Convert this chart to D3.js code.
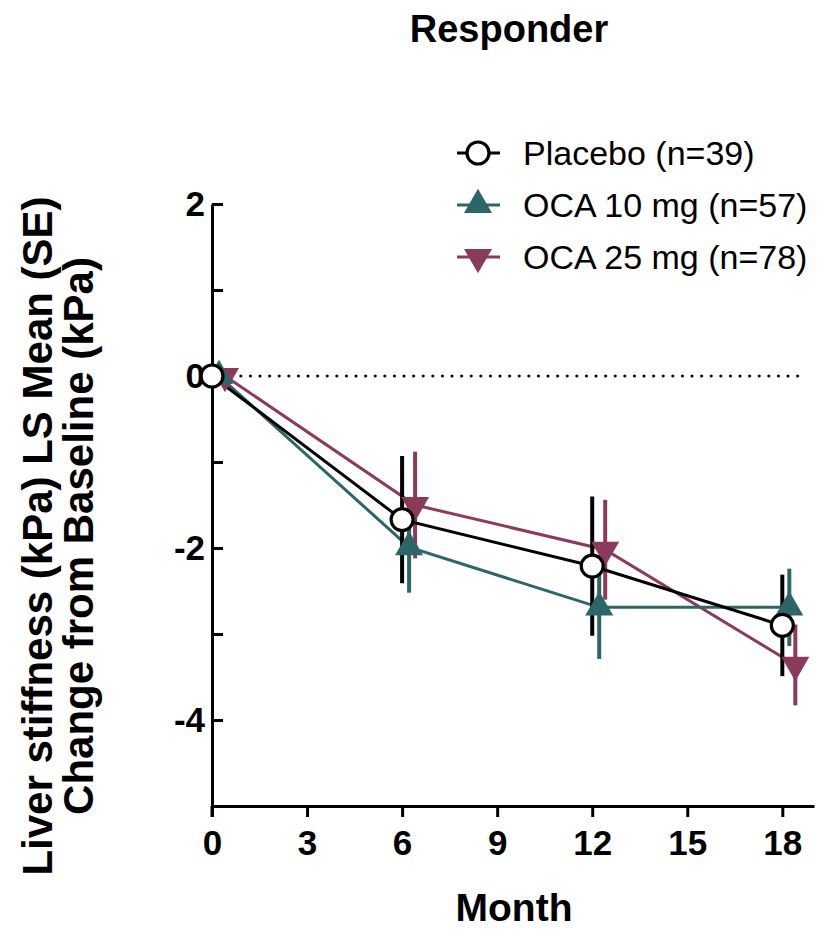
<!DOCTYPE html>
<html>
<head>
<meta charset="utf-8">
<script src="https://cdn.jsdelivr.net/npm/d3@7"></script>
<style>
  body { margin: 0; background: #fff; }
  text { font-family: "Liberation Sans", Arial, sans-serif; }
</style>
</head>
<body>
<div id="app"></div>
<script>
// data
const months = [0, 6, 12, 18]
const seriesNames = ["Placebo (n=39)", "OCA 10 mg (n=57)", "OCA 25 mg (n=78)"]
const placeboMean = [0, -1.67, -2.21, -2.90]
const placeboSE = [0, 0.74, 0.81, 0.59]
const oca10Mean = [0, -1.99, -2.69, -2.69]
const oca10SE = [0, 0.53, 0.60, 0.45]
const oca25Mean = [0, -1.50, -2.02, -3.36]
const oca25SE = [0, 0.62, 0.58, 0.47]
const xTicks = [0, 3, 6, 9, 12, 15, 18]
const yTicks = [2, 0, -2, -4]
const yMinor = [1, -1, -3]

const w = 820, h = 930
const svg = d3.select("#app").append("svg")
  .attr("width", w).attr("height", h)

const x = d3.scaleLinear().domain([0, 19]).range([212, 814])
const y = d3.scaleLinear().domain([-5, 2]).range([806, 204])

const colors = ["#000000", "#2d6669", "#8c3a5a"]
const shift = [0, 7, 13]   // small horizontal nudge so markers don't overlap

const series = seriesNames.map((name, i) => ({
  name: name,
  mean: [placeboMean, oca10Mean, oca25Mean][i],
  se: [placeboSE, oca10SE, oca25SE][i],
  color: colors[i],
  shift: shift[i],
  shape: ["circle", "up", "down"][i]
}))

// x axis
svg.append("g")
  .attr("transform", "translate(0," + y(-5) + ")")
  .call(d3.axisBottom(x).tickValues(xTicks).tickSize(11).tickSizeOuter(0).tickPadding(13))
  .call(g => {
    g.select(".domain").attr("stroke-width", 3)
    g.selectAll(".tick line").attr("stroke-width", 3)
    g.selectAll("text").attr("font-size", 35).attr("font-weight", "bold").attr("fill", "#000")
  })

// y axis, ticks point inward like the original
svg.append("g")
  .attr("transform", "translate(" + x(0) + ",0)")
  .call(d3.axisLeft(y).tickValues(yTicks).tickSize(-11).tickSizeOuter(0).tickPadding(7)
    .tickFormat(d => String(d)))
  .call(g => {
    g.select(".domain").attr("stroke-width", 3)
    g.selectAll(".tick line").attr("stroke-width", 3)
    g.selectAll("text").attr("font-size", 35).attr("font-weight", "bold").attr("fill", "#000")
  })
svg.append("g")
  .attr("transform", "translate(" + x(0) + ",0)")
  .call(d3.axisLeft(y).tickValues(yMinor).tickSize(-11).tickFormat(""))
  .call(g => {
    g.select(".domain").remove()
    g.selectAll(".tick line").attr("stroke-width", 3)
  })
// extend y axis line down through the x-axis tick
svg.append("line")
  .attr("x1", x(0)).attr("x2", x(0))
  .attr("y1", y(-5)).attr("y2", y(-5) + 11)
  .attr("stroke", "#000").attr("stroke-width", 3)

// dotted zero line
svg.append("line")
  .attr("x1", x(0)).attr("x2", x(18.7))
  .attr("y1", y(0)).attr("y2", y(0))
  .attr("stroke", "#000").attr("stroke-width", 3)
  .attr("stroke-linecap", "round")
  .attr("stroke-dasharray", "0.1,9.5")

const line = d3.line()

// draw series in reverse so placebo is on top
series.slice().reverse().forEach(s => {
  const pts = months.map((m, i) => [x(m) + s.shift, y(s.mean[i])])
  const g = svg.append("g")
  g.selectAll("line.err")
    .data(months.map((m, i) => i).filter(i => s.se[i] > 0))
    .enter().append("line")
    .attr("x1", i => pts[i][0]).attr("x2", i => pts[i][0])
    .attr("y1", i => y(s.mean[i] + s.se[i]))
    .attr("y2", i => y(s.mean[i] - s.se[i]))
    .attr("stroke", s.color).attr("stroke-width", 4)
  g.append("path")
    .attr("d", line(pts))
    .attr("fill", "none").attr("stroke", s.color).attr("stroke-width", 3)
})

function drawMarker(sel, shape, color) {
  if (shape === "circle") {
    sel.append("circle").attr("r", 11)
      .attr("fill", "#fff").attr("stroke", color).attr("stroke-width", 3.2)
  } else {
    const sym = d3.symbol().type(d3.symbolTriangle).size(340)
    sel.append("path").attr("d", sym())
      .attr("transform", shape === "down" ? "rotate(180)" : null)
      .attr("fill", color)
  }
}

series.slice().reverse().forEach(s => {
  months.forEach((m, i) => {
    const g = svg.append("g")
      .attr("transform", "translate(" + (x(m) + s.shift) + "," + y(s.mean[i]) + ")")
    drawMarker(g, s.shape, s.color)
  })
})

// legend
const leg = svg.append("g").attr("transform", "translate(457,153)")
series.forEach((s, i) => {
  const row = leg.append("g").attr("transform", "translate(0," + (i * 52) + ")")
  row.append("line").attr("x1", 0).attr("x2", 43)
    .attr("stroke", s.color).attr("stroke-width", 3)
  const mk = row.append("g").attr("transform", "translate(21,0)")
  drawMarker(mk, s.shape, s.color)
  row.append("text").attr("x", 66).attr("y", 12)
    .attr("font-size", 34).attr("fill", "#000").text(s.name)
})

// titles
svg.append("text").attr("x", 509).attr("y", 42)
  .attr("text-anchor", "middle").attr("font-size", 38).attr("font-weight", "bold")
  .text("Responder")
svg.append("text").attr("x", 514).attr("y", 921)
  .attr("text-anchor", "middle").attr("font-size", 39).attr("font-weight", "bold")
  .text("Month")
const yl = svg.append("text")
  .attr("transform", "translate(0,536) rotate(-90)")
  .attr("text-anchor", "middle").attr("font-size", 42).attr("font-weight", "bold")
yl.append("tspan").attr("x", 0).attr("y", 52).text("Liver stiffness (kPa) LS Mean (SE)")
yl.append("tspan").attr("x", 0).attr("y", 93).text("Change from Baseline (kPa)")
</script>
</body>
</html>
